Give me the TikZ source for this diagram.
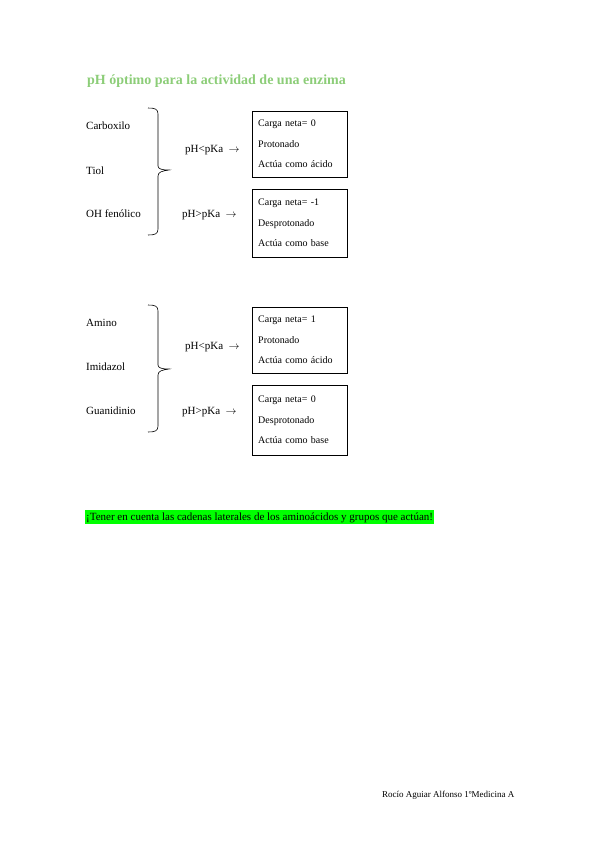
\documentclass[tikz,border=0pt]{standalone}
\usepackage{fontspec}
\setmainfont{Liberation Serif}
\definecolor{titleverde}{RGB}{140,205,120}
\definecolor{resalte}{RGB}{0,255,0}
\tikzset{
  grupo/.style={anchor=base west,inner sep=0pt,font=\fontsize{11}{13}\selectfont},
  cond/.style={anchor=base west,inner sep=0pt,font=\fontsize{11}{13}\selectfont},
  caja/.style={draw,anchor=north west,minimum width=95pt,minimum height=66pt,
    text width=83pt,inner xsep=6pt,align=left,font=\fontsize{10}{20.5}\selectfont},
  llave/.style={line width=0.6pt}
}
\begin{document}
\begin{tikzpicture}[x=1pt,y=-1pt]
  \useasboundingbox (0,0) rectangle (599,848);
  \node[anchor=base west,inner sep=0pt,text=titleverde,font=\fontsize{14}{16}\selectfont\bfseries]
    (titulo) at (87,85) {pH óptimo para la actividad de una enzima};

  % grupos acidos
  \draw
    (86,130) node[grupo] (carb){Carboxilo}
    (86,174) node[grupo] (tiol){Tiol}
    (86,217) node[grupo] (ohfen){OH fenólico}
    (185,152) node[cond] (menor1){pH<pKa\enspace$\rightarrow$}
    (182,217) node[cond] (mayor1){pH>pKa\enspace$\rightarrow$};
  \node[caja] (prot1) at (252,111) {Carga neta= 0\\Protonado\\Actúa como ácido};
  \node[caja,minimum height=68pt] (desp1) at (252,189) {Carga neta= -1\\Desprotonado\\Actúa como base};
  \draw[llave] (148,108) .. controls (155,108) and (158,109) .. (158,114) -- (158,166)
    .. controls (158,169) and (162,170) .. (169,170)
    .. controls (162,171) and (158,172) .. (158,176) -- (158,229)
    .. controls (158,234) and (155,235) .. (148,235);

  % grupos basicos
  \draw
    (86,326) node[grupo] (amino){Amino}
    (86,370) node[grupo] (imid){Imidazol}
    (86,414) node[grupo] (guan){Guanidinio}
    (185,349) node[cond] (menor2){pH<pKa\enspace$\rightarrow$}
    (182,414) node[cond] (mayor2){pH>pKa\enspace$\rightarrow$};
  \node[caja] (prot2) at (252,307) {Carga neta= 1\\Protonado\\Actúa como ácido};
  \node[caja,minimum height=70pt] (desp2) at (252,385) {Carga neta= 0\\Desprotonado\\Actúa como base};
  \draw[llave] (148,305) .. controls (155,305) and (158,306) .. (158,311) -- (158,365)
    .. controls (158,368) and (162,369) .. (169,369)
    .. controls (162,370) and (158,371) .. (158,375) -- (158,426)
    .. controls (158,431) and (155,432) .. (148,432);

  \node[anchor=base west,fill=resalte,inner xsep=1pt,inner ysep=0pt,text height=10pt,text depth=4pt,
    font=\fontsize{11}{13}\selectfont] (nota) at (85,520)
    {¡Tener en cuenta las cadenas laterales de los aminoácidos y grupos que actúan!};
  \node[anchor=base west,inner sep=0pt,font=\fontsize{9}{11}\selectfont] (pie) at (382,797)
    {Rocío Aguiar Alfonso 1ºMedicina A};
\end{tikzpicture}
\end{document}
